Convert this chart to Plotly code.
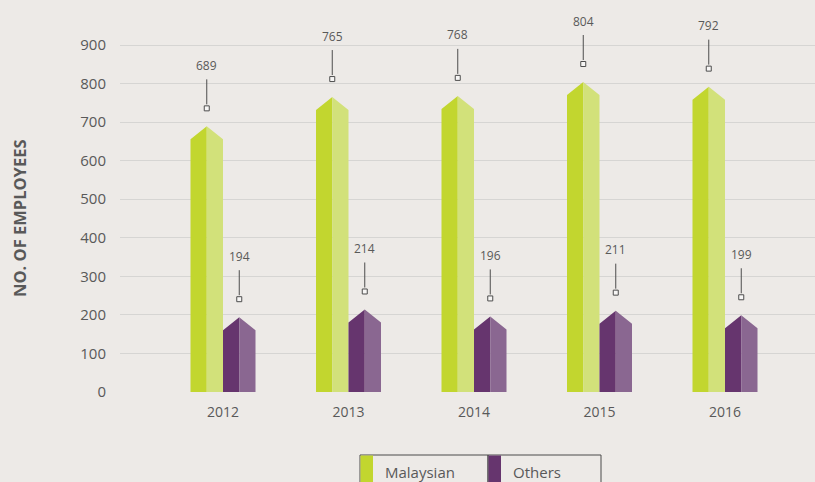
import plotly.graph_objects as go

years = ["2012", "2013", "2014", "2015", "2016"]
malaysian = [689, 765, 768, 804, 792]
others = [194, 214, 196, 211, 199]
y_ticks = [0, 100, 200, 300, 400, 500, 600, 700, 800, 900]

BG = "#edeae7"
GRID = "#d6d5d3"
TEXT = "#595959"
LIME_L, LIME_R = "#c2d62f", "#d2e17a"
PURP_L, PURP_R = "#66356e", "#8a6791"

W, H = 815, 482
ML, MR, MT, MB = 120, 0, 10, 90
plot_w = W - ML - MR
plot_h = H - MT - MB
px_per_cat = 125.5
x_range = [-(223 - ML) / px_per_cat, len(years) - 1 + (W - 725) / px_per_cat]
px_per_unit = (392 - 45) / 900.0
y_range = [0, plot_h / px_per_unit]

bar_w = 32.5 / px_per_cat          # width of one bar in category units
drop = 13 / px_per_unit            # shoulder drop of the pointed top (data units)
u = 1 / px_per_unit                # one pixel in data units

def halves(values, offset):
    lx, ly, rx, ry = [], [], [], []
    for i, v in enumerate(values):
        x0 = i + offset
        xc = x0 + bar_w / 2
        x1 = x0 + bar_w
        lx += [x0, x0, xc, xc, x0, None]
        ly += [0, v - drop, v, 0, 0, None]
        rx += [xc, xc, x1, x1, xc, None]
        ry += [0, v, v - drop, 0, 0, None]
    return lx, ly, rx, ry

fig = go.Figure()
for vals, off, cl, cr, name in [(malaysian, -bar_w, LIME_L, LIME_R, "Malaysian"),
                                (others, 0, PURP_L, PURP_R, "Others")]:
    lx, ly, rx, ry = halves(vals, off)
    fig.add_trace(go.Scatter(x=lx, y=ly, fill="toself", fillcolor=cl, mode="lines",
                             line=dict(width=0, color=cl), name=name, showlegend=False,
                             hoverinfo="skip"))
    fig.add_trace(go.Scatter(x=rx, y=ry, fill="toself", fillcolor=cr, mode="lines",
                             line=dict(width=0, color=cr), name=name, showlegend=False,
                             hoverinfo="skip"))

# leader lines, squares, labels
line_x, line_y, sq_x, sq_y = [], [], [], []
for vals, off in [(malaysian, -bar_w / 2), (others, bar_w / 2)]:
    for i, v in enumerate(vals):
        xc = i + off
        line_x += [xc, xc, None]
        line_y += [v + 22 * u, v + 47 * u, None]
        sq_x.append(xc)
        sq_y.append(v + 18 * u)
        fig.add_annotation(x=xc, y=v, text=str(v), showarrow=False, yshift=61,
                           font=dict(size=12, color=TEXT))

fig.add_trace(go.Scatter(x=line_x, y=line_y, mode="lines",
                         line=dict(color="#4d4d4d", width=1), showlegend=False, hoverinfo="skip"))
fig.add_trace(go.Scatter(x=sq_x, y=sq_y, mode="markers",
                         marker=dict(symbol="square", size=5, color="#f7f6f5",
                                     line=dict(color="#4d4d4d", width=1)),
                         showlegend=False, hoverinfo="skip"))

# y-axis title
fig.add_annotation(text="<b>NO. OF EMPLOYEES</b>", textangle=-90, showarrow=False,
                   xref="paper", yref="paper", x=0, xanchor="center", xshift=-101,
                   y=(392 - 218) / plot_h, yanchor="middle", font=dict(size=16.5, color=TEXT))

# custom legend box
def px_x(p):
    return (p - ML) / plot_w

def px_y(p):
    return (392 - p) / plot_h

legend_items = [("Malaysian", LIME_L, 360, 488), ("Others", PURP_L, 488, 601)]
for label, col, a, b in legend_items:
    fig.add_shape(type="rect", xref="paper", yref="paper", x0=px_x(a), x1=px_x(b),
                  y0=px_y(500), y1=px_y(455), line=dict(color="#4a4a4a", width=1),
                  fillcolor="rgba(0,0,0,0)", layer="above")
    fig.add_shape(type="rect", xref="paper", yref="paper", x0=px_x(a + 0.5), x1=px_x(a + 13),
                  y0=px_y(500), y1=px_y(455.5), line=dict(width=0), fillcolor=col, layer="above")
    fig.add_annotation(text=label, showarrow=False, xref="paper", yref="paper",
                       x=px_x(a + 23), xanchor="left", y=px_y(472), yanchor="middle",
                       font=dict(size=15, color=TEXT))

fig.update_layout(
    width=W, height=H,
    margin=dict(l=ML, r=MR, t=MT, b=MB),
    paper_bgcolor=BG, plot_bgcolor=BG,
    font=dict(family="Open Sans", color=TEXT),
    showlegend=False,
)
fig.update_xaxes(range=x_range, tickvals=list(range(len(years))), ticktext=years,
                 showgrid=False, zeroline=False, showline=False, ticks="",
                 ticklabelstandoff=10, tickfont=dict(size=14, color=TEXT))
fig.update_yaxes(range=y_range, tickvals=y_ticks, showgrid=True, gridcolor=GRID, gridwidth=1,
                 zeroline=False, showline=False, ticks="", ticklabelstandoff=13,
                 tickfont=dict(size=15, color=TEXT))

fig.write_html("out.html", config={"displayModeBar": False, "staticPlot": True},
               post_script="document.body.style.margin='0';document.body.style.overflow='hidden';"
                           "document.documentElement.style.overflow='hidden';document.body.style.background='%s';" % BG)
